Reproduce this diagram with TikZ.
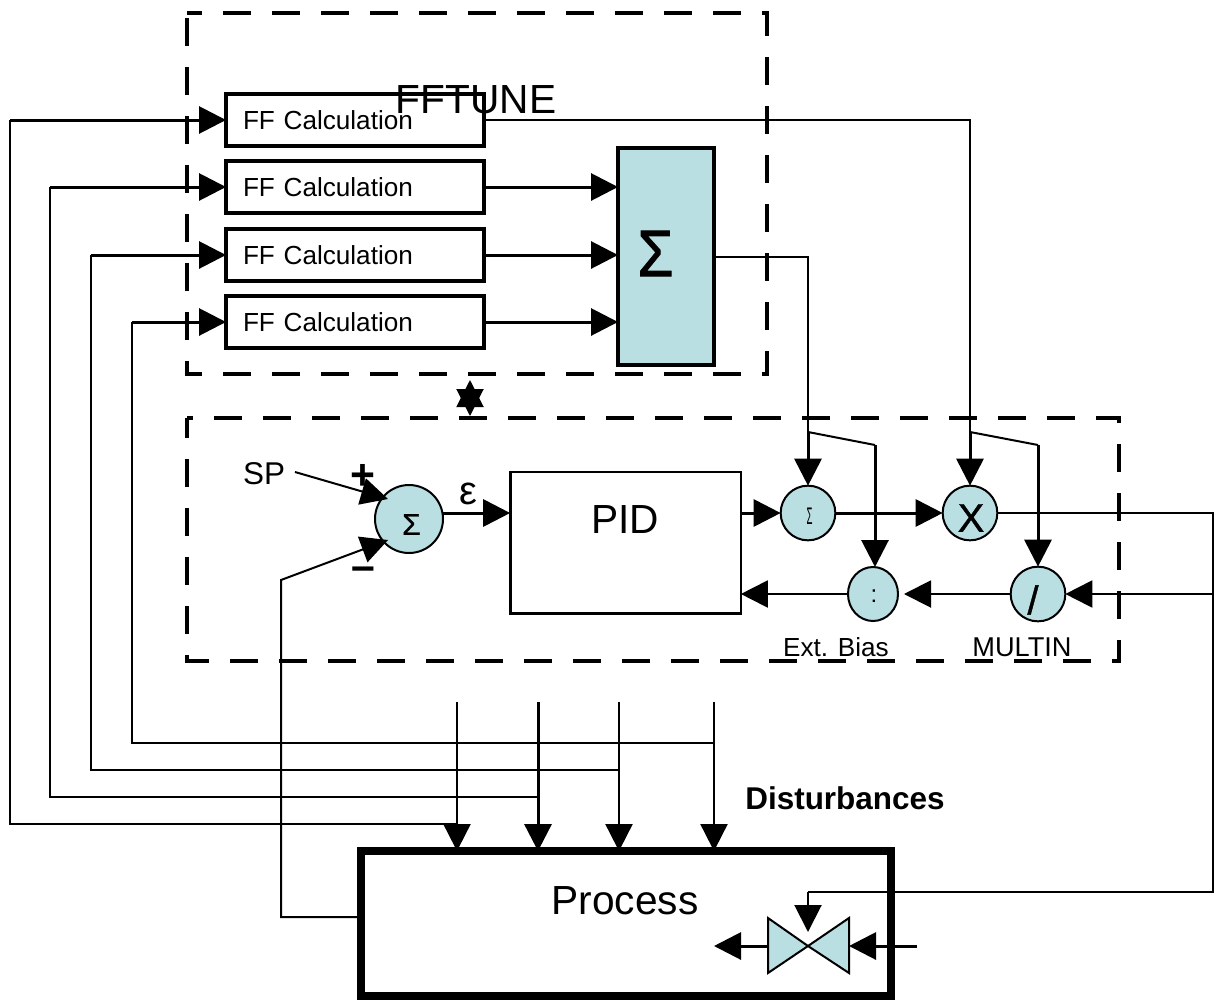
\documentclass[tikz,border=0pt]{standalone}
\usepackage{fontspec}
\setmainfont{Liberation Sans}
\usetikzlibrary{arrows.meta, shapes.geometric}
\definecolor{calcblue}{HTML}{B9DFE3}
\tikzset{
  wire/.style={line width=1.5pt},
  heavywire/.style={line width=2.25pt},
  dashbox/.style={line width=3pt, dash pattern=on 21pt off 15.75pt},
  ffbox/.style={draw, line width=2.8pt, minimum width=193.5pt, minimum height=39pt, inner xsep=12.75pt, inner ysep=0pt, text width=168pt, font=\fontsize{19.6}{24}\selectfont},
  junction/.style={circle, draw, fill=calcblue, line width=1.5pt, minimum size=41pt, inner sep=0pt},
  labeltext/.style={inner sep=0pt, font=\fontsize{19.6}{24}\selectfont},
  bigtext/.style={inner sep=0pt, font=\fontsize{30.5}{36}\selectfont},
  glyph/.style={inner sep=0pt, font=\fontsize{30}{34}\selectfont\addfontfeature{FakeBold=1}},
}
\begin{document}
\begin{tikzpicture}[x=0.75pt, y=-0.75pt, outer sep=0pt, >={Triangle[length=20.25pt, width=20.25pt]}]
  \useasboundingbox (0,0) rectangle (1215,1000);
  % cajas discontinuas
  \draw[dashbox, dash phase=9.75pt] (187,13) -- (767,13) -- (767,374) -- (187,374) -- cycle;
  \draw[dashbox, dash phase=16.5pt] (187,418) -- (1119,418) -- (1119,661) -- (187,661) -- cycle;
  % bloque FF y suma
  \foreach \i/\y in {1/120,2/187,3/255,4/322}
    \node[ffbox] (ff\i) at (355,\y) {FF Calculation};
  \node[draw, fill=calcblue, line width=3pt, minimum width=72pt, minimum height=163pt, inner sep=0pt] (sumbox) at (666,256.5) {};
  \node[glyph, font=\fontsize{37}{44}\selectfont\addfontfeature{FakeBold=1.5}] (sumglyph) at (655.5,253.5) {\scalebox{1.18}[1.34]{Σ}};
  \node[bigtext] (fftune) at (476,100) {FFTUNE};
  % enlace entre cajas
  \coordinate (linkA) at (470,380);
  \coordinate (linkB) at (470,416);
  \draw[wire, <->] (linkA) -- (linkB);
  % lazo PID
  \node[draw, line width=2pt, minimum width=173pt, minimum height=106pt, inner sep=0pt] (pid) at (625.5,542.5) {};
  \node[bigtext] (pidtext) at (625,520) {PID};
  \node[junction, minimum size=51pt] (errsum) at (409,519) {};
  \node[junction] (biassum) at (808,513) {};
  \node[junction] (mult) at (970,513) {};
  \node[draw, fill=calcblue, line width=1.5pt, ellipse, minimum width=37.5pt, minimum height=40.5pt, inner sep=0pt] (biasdiv) at (873,594) {};
  \node[junction] (div) at (1038,594) {};
  % signos
  \node[glyph, font=\fontsize{22.5}{26}\selectfont\addfontfeature{FakeBold=1}] (errglyph) at (411.5,524.5) {Σ};
  \node[glyph, font=\fontsize{18}{22}\selectfont] (biasglyph) at (809.5,516) {\scalebox{.4}[1]{Σ}};
  \node[glyph] (multglyph) at (971,518) {X};
  \node[glyph, font=\fontsize{18}{22}\selectfont] (colonglyph) at (874,596) {:};
  \node[glyph] (divglyph) at (1033,600) {/};
  \node[labeltext] (extbias) at (836,647) {Ext. Bias};
  \node[labeltext, font=\fontsize{20.4}{24}\selectfont] (multin) at (1022,647) {MULTIN};
  \node[inner sep=0pt, font=\fontsize{23.6}{28}\selectfont] (sp) at (264,474) {SP};
  \node[inner sep=0pt, font=\bfseries\fontsize{32}{36}\selectfont] (plus) at (363,477) {+};
  \node[inner sep=0pt, font=\bfseries\fontsize{32}{36}\selectfont] (minus) at (363,574) {–};
  \node[inner sep=0pt, font=\fontsize{30}{36}\selectfont] (eps) at (468,494) {ε};
  % proceso
  \node[draw, line width=6pt, minimum width=397.5pt, minimum height=109pt, inner sep=0pt] (process) at (625.5,923.75) {};
  \node[bigtext] (processtext) at (625,901) {Process};
  \node[inner sep=0pt, font=\bfseries\fontsize{23.6}{28}\selectfont] (dist) at (845,798) {Disturbances};
  % valvula
  \coordinate (valve) at (808,946);
  \coordinate (valveL) at (768,946);
  \coordinate (valveR) at (849,946);
  \coordinate (valveIn) at (917,946);
  \coordinate (valveOut) at (714,946);
  \coordinate (valveTop) at (808,932);
  \draw[wire, fill=calcblue] (valve) -- (768,918) -- (768,973) -- cycle;
  \draw[wire, fill=calcblue] (valve) -- (849,918) -- (849,973) -- cycle;
  \draw[heavywire, ->] (valveL) -- (valveOut);
  \draw[heavywire, ->] (valveIn) -- (valveR);
  % perturbaciones hacia FF
  \foreach \i/\x/\w in {1/457/1.5pt,2/538/2.25pt,3/619/1.5pt,4/714/1.5pt}{
    \coordinate (tap\i) at (\x,702);
    \draw[line width=\w, ->] (tap\i) -- (tap\i |- process.north);
  }
  \foreach \i/\x/\y in {1/10/824,2/50/797,3/91/770,4/132/743}{
    \coordinate (bend\i) at (\x,\y);
    \draw[wire] (tap\i |- bend\i) -- (bend\i) -- (bend\i |- ff\i.west);
    \draw[heavywire, ->] (bend\i |- ff\i.west) -- (ff\i.west);
  }
  % salidas FF
  \foreach \i in {2,3,4}
    \draw[heavywire, ->] (ff\i.east) -- (ff\i.east -| sumbox.west);
  % ramas superiores
  \coordinate (splitA) at (808,432);
  \coordinate (kneeA) at (875,445);
  \coordinate (splitB) at (970,432);
  \coordinate (kneeB) at (1038,445);
  \draw[wire] (ff1.east) -| (splitB);
  \draw[wire] (sumbox.east) -| (splitA);
  \draw[heavywire, ->] (splitA) -- (biassum.north);
  \draw[heavywire, ->] (splitB) -- (mult.north);
  \draw[wire] (splitA) -- (kneeA);
  \draw[wire] (splitB) -- (kneeB);
  \draw[heavywire, ->] (kneeA) -- (kneeA |- biasdiv.north);
  \draw[heavywire, ->] (kneeB) -- (div.north);
  % lazo
  \coordinate (spStart) at (295,472);
  \coordinate (spEnd) at (388,499);
  \coordinate (pvEnd) at (388,540);
  \coordinate (pvBend) at (281,580);
  \coordinate (pvOut) at (360,917);
  \coordinate (errOut) at (443,513);
  \coordinate (rightTop) at (1213,513);
  \coordinate (rightMid) at (1213,594);
  \coordinate (rightLow) at (1213,892);
  \draw[wire, ->] (spStart) -- (spEnd);
  \draw[wire, ->] (pvOut) -| (pvBend) -- (pvEnd);
  \draw[heavywire, ->] (errOut) -- (errOut -| pid.west);
  \draw[heavywire, ->] (pid.east |- biassum.west) -- (biassum.west);
  \draw[heavywire, ->] (biassum.east) -- (mult.west);
  \draw[wire] (mult.east) -- (rightTop) -- (rightLow) -- (rightLow -| valve) coordinate (valveBend);
  \draw[wire, ->] (valveBend) -- (valveTop);
  \draw[wire, ->] (rightMid) -- (div.east);
  \draw[wire, ->, shorten >=4.5pt] (div.west) -- (biasdiv.east);
  \draw[wire, ->] (biasdiv.west) -- (biasdiv.west -| pid.east);
\end{tikzpicture}
\end{document}
